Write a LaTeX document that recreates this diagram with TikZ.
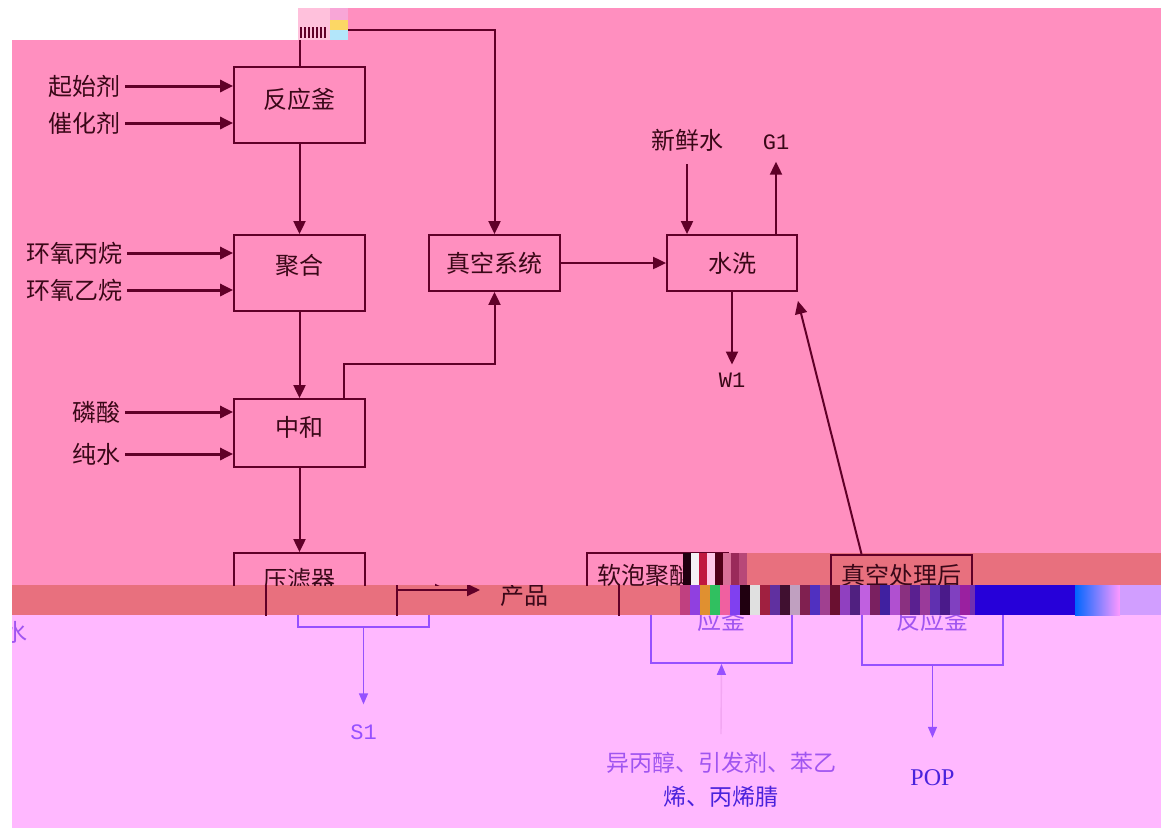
\documentclass[tikz,border=0pt]{standalone}
\usepackage{fontspec}
\newfontfamily\zhfont{Noto Sans CJK SC}
\setmainfont{Liberation Serif}
\setmonofont{Liberation Mono}
\usetikzlibrary{arrows.meta}

\definecolor{pinkbg}{HTML}{FF8FBF}
\definecolor{bandbg}{HTML}{E8707E}
\definecolor{lowbg}{HTML}{FFB8FF}
\definecolor{wine}{HTML}{600028}
\definecolor{ink}{HTML}{3A0818}
\definecolor{lowline}{HTML}{9650FF}
\definecolor{lowtext}{HTML}{A055F0}
\definecolor{deepink}{HTML}{4A22DC}
\definecolor{shaft}{HTML}{F2A6F2}

\newcommand{\zhbig}{\zhfont\fontsize{24}{28}\selectfont}
\newcommand{\zhmix}{\zhfont\fontsize{23}{34}\selectfont}
\newcommand{\tagfont}{\ttfamily\fontsize{22}{26}\selectfont}

\tikzset{
  box/.style={draw=wine, line width=1.8pt, minimum width=131pt, minimum height=76pt,
    inner sep=0pt, align=center, text=ink, font=\zhbig},
  tank/.style={box, minimum width=141pt, minimum height=110pt},
  feed/.style={text=ink, font=\zhbig, inner sep=0pt, inner xsep=4pt},
  tag/.style={text=ink, font=\tagfont, inner sep=0pt},
  flow/.style={draw=wine, line width=2pt, -{Triangle[length=13pt,width=12pt]}},
  lowpart/.style={box/.append style={draw=lowline, text=lowtext},
    tag/.append style={text=lowline}, feed/.append style={text=lowtext},
    flow/.append style={draw=lowline, line width=1.4pt, -{Triangle[length=11pt,width=9pt]}}}
}

\begin{document}
\begin{tikzpicture}[x=1pt, y=-1pt]
  \useasboundingbox (0,0) rectangle (1161,828);
  \fill[white] (0,0) rectangle (1161,828);
  \fill[pinkbg] (12,40) rectangle (1161,585);
  \fill[pinkbg] (298,8) rectangle (1161,40);
  \fill[bandbg] (12,585) rectangle (680,615);
  \fill[bandbg] (747,553) rectangle (1161,585);
  \fill[lowbg] (12,615) rectangle (1161,828);

  \node[box, text depth=13pt] (rk) at (299.5,105) {反应釜};
  \node[box, text depth=17pt] (jh) at (299.5,273) {聚合};
  \node[box, minimum height=68pt, text depth=13pt] (zh) at (299.5,433) {中和};
  \node[box, minimum height=56pt] (zk) at (494.5,263) {真空系统};
  \node[box, minimum width=130pt, minimum height=56pt] (sx) at (732,263) {水洗};

  \node[feed, anchor=east] (qsj) at (125,86) {起始剂};
  \node[feed, anchor=east] (chj) at (125,123) {催化剂};
  \node[feed, anchor=east] (hybw) at (127,253) {环氧丙烷};
  \node[feed, anchor=east] (hyyw) at (127,290) {环氧乙烷};
  \node[feed, anchor=east] (ls) at (125,412) {磷酸};
  \node[feed, anchor=east] (cs) at (125,454) {纯水};
  \node[feed, inner ysep=13pt] (xxs) at (687,140) {新鲜水};
  \node[tag, inner ysep=12pt] (g1) at (776,142) {G1};
  \node[tag, inner ysep=8pt] (w1) at (732,380) {W1};

  \draw[flow, line width=3pt] (qsj.east) -- (qsj.east -| rk.west);
  \draw[flow, line width=3pt] (chj.east) -- (chj.east -| rk.west);
  \draw[flow, line width=3pt] (hybw.east) -- (hybw.east -| jh.west);
  \draw[flow, line width=3pt] (hyyw.east) -- (hyyw.east -| jh.west);
  \draw[flow, line width=3pt] (ls.east) -- (ls.east -| zh.west);
  \draw[flow, line width=3pt] (cs.east) -- (cs.east -| zh.west);
  \draw[flow] (rk.south) -- (jh.north);
  \draw[flow] (jh.south) -- (zh.north);
  \draw[flow] (rk.north) -- ++(0,-36) -| (zk.north);
  \draw[flow] ([xshift=44pt]zh.north) -- ++(0,-34) -| (zk.south);
  \draw[flow] (zk.east) -- (sx.west);
  \draw[flow] (xxs.south) -- (xxs.south |- sx.north);
  \draw[flow] (g1.south |- sx.north) -- (g1.south);
  \draw[flow] (sx.south) -- (w1.north);

  % lower row, upper strip of the broken scan
  \begin{scope}
    \clip (12,40) rectangle (1161,585);
    \node[box, minimum height=74pt, text depth=23pt] (filt) at (299.5,590) {压滤器};
    \node[tank] (soft) at (657.5,608) {};
    \node[tank] (vac) at (901.5,610) {};
    \node[feed] (softa) at (657.5,575) {软泡聚醚反};
    \node[feed] (vaca) at (901.5,575) {真空处理后};
    \coordinate (prodin) at (448,590);
    \draw[flow] (filt.east) -- (prodin);
  \end{scope}
  \draw[flow] (zh.south) -- (filt.north);
  \draw[flow] ([xshift=-40pt]vac.north) -- ([yshift=-9pt]sx.south east);

  % middle strip, shifted right
  \begin{scope}[shift={(32,0)}]
    \clip (-20,585) rectangle (648,615);
    \node[box, minimum height=74pt] (filt) at (299.5,590) {};
    \node[tank] (soft) at (657.5,608) {};
    \node[feed, anchor=west, inner xsep=20pt] (prod) at (448,595) {产品};
    \draw[flow] (filt.east) -- (filt.east -| prod.west);
  \end{scope}

  % lower strip, shifted further
  \begin{scope}[shift={(64,0)}, lowpart]
    \clip (-52,615) rectangle (791,828);
    \node[box, minimum height=74pt] (filt) at (299.5,590) {};
    \node[tank] (soft) at (657.5,608) {};
    \node[feed] (softb) at (657.5,620) {应釜};
    \node[tag, inner ysep=20pt] (s1) at (299.5,732) {S1};
    \node[feed, font=\zhmix, align=center, inner ysep=18pt] (mix) at (657,780)
      {\textcolor{lowtext}{异丙醇、引发剂、苯乙}\\\textcolor{deepink}{烯、丙烯腈}};
    \node[feed] (shui) at (-48,632) {水};
    \draw[flow] (filt.south) -- (s1.north);
    \draw[flow, draw=shaft, -{Triangle[length=11pt,width=9pt,color=lowline]}] (mix.north) -- (soft.south);
  \end{scope}
  \begin{scope}[shift={(31,0)}, lowpart]
    \clip (824,615) rectangle (1130,828);
    \node[tank] (vac) at (901.5,610) {};
    \node[feed] (vacb) at (901.5,620) {反应釜};
    \node[tag, font=\rmfamily\fontsize{24}{28}\selectfont, text=deepink, inner ysep=32pt] (pop) at (901.5,778) {POP};
    \draw[flow] (vac.south) -- (pop.north);
  \end{scope}

  % noise blocks
  \fill[pinkbg!55!white] (298,8) rectangle (330,40);
  \foreach \x in {301,305,...,325} \draw[wine, line width=1.3pt] (\x,27) -- (\x,38);
  \fill[magenta!35!white] (330,8) rectangle (348,20);
  \fill[yellow!45!pink] (330,20) rectangle (348,30);
  \fill[cyan!30!white] (330,30) rectangle (348,40);
  \foreach \c [count=\i from 0] in {200010,F4F0F4,C01840,FFC8E8,500018,D87098,9A2A5A,B84878}
    {\definecolor{nz}{HTML}{\c}\fill[nz] (683+8*\i,553) rectangle (691+8*\i,585);}
  \foreach \c [count=\i from 0] in {C04080,9040E0,E09030,30C060,F060A0,8040F0,200010,E0E0E0,A02040,6030A0,401030,C0A0C0,802050,5030C0,A04090}
    {\definecolor{nz}{HTML}{\c}\fill[nz] (680+10*\i,585) rectangle (690+10*\i,615);}
  \foreach \c [count=\i from 0] in {6A1030,9040C0,502080,C060E0,7A2060,4020A0,B050D0,8A3080,5A2090,9A3A9A,6030B0,4A1A8A,8040C0,9A20A0,7030B0}
    {\definecolor{nz}{HTML}{\c}\fill[nz] (830+10*\i,585) rectangle (840+10*\i,615);}
  \fill[blue!70!violet] (975,585) rectangle (1075,615);
  \shade[left color=blue!60!cyan, right color=magenta!40!white] (1075,585) rectangle (1120,615);
  \fill[lowbg!80!blue!90!white] (1120,585) rectangle (1161,615);
\end{tikzpicture}
\end{document}
